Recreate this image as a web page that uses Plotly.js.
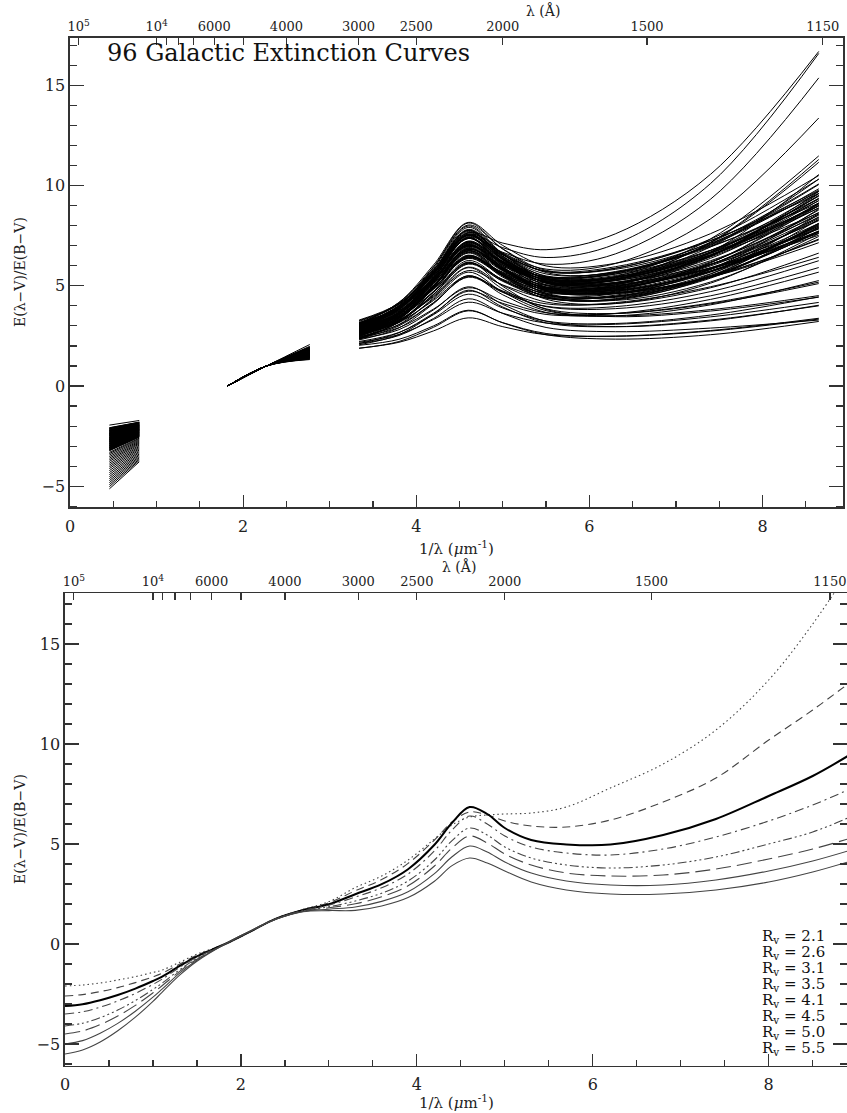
<!DOCTYPE html>
<html><head><meta charset="utf-8">
<script src="https://cdn.plot.ly/plotly-3.0.1.min.js"></script>
<style>html,body{margin:0;padding:0;background:#fff}#chart{width:847px;height:1113px}</style>
</head><body><div id="chart"></div>
<script>
// ================= DATA =================
// top panel: 96 Galactic extinction curves
const irX  = [0.455, 0.80];            // K and J bands (1/micron)
const optX = [1.82, 2.27, 2.77];       // V, B, U
const optNorm = [0, 1];                // E(V-V)=0, E(B-V)/E(B-V)=1
const uvX  = [3.34, 3.8, 4.2, 4.6, 5.0, 5.5, 6.3, 7.4, 8.65];

const irK = [-2.35,-2.22,-2.41,-2.48,-2.58,-2.63,-2.70,-2.66,
 -1.95,-2.08,-2.11,-2.14,-2.17,-2.19,-2.21,-2.24,-2.26,-2.28,
 -2.30,-2.32,-2.34,-2.36,-2.38,-2.40,-2.42,-2.44,-2.46,-2.49,
 -2.51,-2.53,-2.55,-2.57,-2.60,-2.62,-2.64,-2.67,-2.69,-2.71,
 -2.73,-2.75,-2.77,-2.79,-2.81,-2.83,-2.85,-2.87,-2.89,-2.91,
 -2.93,-2.95,-2.97,-2.99,-3.01,-3.03,-3.05,-3.07,-3.09,-3.11,
 -3.13,-3.15,-3.17,-3.19,-3.21,-3.23,-2.09,-2.13,-2.25,-2.37,
 -2.47,-2.56,-2.68,-2.78,-2.88,-2.98,-3.08,-3.31,-3.37,-3.44,
 -3.52,-3.60,-3.68,-3.76,-3.85,-3.94,-4.03,-4.12,-4.22,-4.32,
 -4.42,-4.52,-4.62,-4.72,-4.82,-4.92,-5.02,-5.13];
const irJ = [-1.98,-1.89,-2.02,-2.06,-2.13,-2.16,-2.21,-2.18,
 -1.72,-1.80,-1.82,-1.84,-1.86,-1.87,-1.89,-1.91,-1.92,-1.93,
 -1.95,-1.96,-1.97,-1.98,-2.00,-2.01,-2.02,-2.04,-2.05,-2.07,
 -2.08,-2.09,-2.11,-2.12,-2.14,-2.15,-2.17,-2.19,-2.20,-2.21,
 -2.22,-2.24,-2.25,-2.26,-2.28,-2.29,-2.30,-2.32,-2.33,-2.34,
 -2.35,-2.37,-2.38,-2.39,-2.41,-2.42,-2.43,-2.45,-2.46,-2.47,
 -2.48,-2.50,-2.51,-2.52,-2.54,-2.55,-1.81,-1.83,-1.91,-1.99,
 -2.06,-2.11,-2.19,-2.26,-2.32,-2.39,-2.45,-2.60,-2.64,-2.69,
 -2.74,-2.79,-2.84,-2.89,-2.95,-3.01,-3.07,-3.13,-3.19,-3.26,
 -3.32,-3.39,-3.45,-3.52,-3.58,-3.65,-3.71,-3.78];
const optU = [1.78,1.85,1.74,1.70,1.66,1.72,1.63,1.68,
 2.07,1.98,1.95,1.93,1.91,1.89,1.88,1.86,1.85,1.84,
 1.83,1.82,1.81,1.80,1.79,1.78,1.77,1.76,1.75,1.74,
 1.73,1.72,1.71,1.70,1.69,1.68,1.67,1.66,1.65,1.64,
 1.63,1.62,1.61,1.60,1.59,1.58,1.57,1.56,1.55,1.54,
 1.90,1.87,1.83,1.79,1.76,1.73,1.70,1.67,1.64,1.61,
 1.58,1.55,1.81,1.77,1.74,1.71,1.68,1.65,1.62,1.59,
 1.78,1.72,1.66,1.60,1.84,1.75,1.69,1.63,1.57,1.53,
 1.52,1.51,1.50,1.49,1.48,1.47,1.46,1.45,1.44,1.43,
 1.42,1.41,1.40,1.39,1.37,1.36,1.34,1.32];

const uvTop = [
 [3.05,4.16,5.81,7.64,7.13,6.80,7.59,10.56,16.69],
 [2.83,3.93,5.65,7.56,6.90,6.41,7.08,10.10,16.59],
 [2.93,3.94,5.58,7.41,6.67,6.08,6.59,9.32,15.37],
 [3.06,4.02,5.68,7.56,6.63,5.83,6.11,8.34,13.37],
 [2.73,3.60,5.12,6.83,5.97,5.23,5.46,7.34,11.48],
 [2.59,3.55,5.27,7.23,6.15,5.19,5.32,7.17,11.30],
 [2.96,3.83,5.41,7.21,6.20,5.30,5.40,7.15,11.16],
 [2.92,3.83,5.58,7.58,6.31,5.14,5.06,6.67,10.55]];
const uvMain = [
 [3.05,4.00,5.86,7.98,6.60,5.33,5.17,6.37,9.09],
 [2.92,3.88,5.67,7.71,6.48,5.36,5.33,6.52,8.98],
 [2.82,3.69,5.40,7.36,6.05,4.83,4.64,5.68,8.08],
 [3.09,3.92,5.52,7.36,6.16,5.05,4.91,5.90,8.11],
 [2.69,3.56,5.20,7.08,5.92,4.86,4.79,5.83,7.98],
 [2.89,3.67,5.23,7.03,5.79,4.63,4.42,5.43,7.91],
 [2.56,3.43,5.01,6.81,5.80,4.90,4.97,6.19,8.66],
 [2.96,3.74,5.24,6.96,5.87,4.87,4.77,5.71,7.74],
 [2.76,3.58,5.12,6.88,5.83,4.88,4.87,6.05,8.59],
 [3.16,3.89,5.35,7.03,5.90,4.85,4.67,5.43,7.15],
 [2.63,3.50,5.02,6.73,5.87,5.13,5.32,6.61,9.02],
 [2.83,3.61,5.05,6.68,5.74,4.90,4.94,6.07,8.42],
 [2.53,3.27,4.67,6.26,5.28,4.39,4.36,5.51,8.12],
 [3.03,3.86,5.34,7.01,6.11,5.32,5.43,6.54,8.63],
 [2.70,3.49,4.86,6.41,5.62,4.94,5.12,6.50,9.37],
 [2.90,3.64,4.97,6.48,5.65,4.92,5.00,6.08,8.25],
 [2.46,3.37,4.99,6.83,5.86,5.01,5.16,6.49,9.09],
 [3.22,4.09,5.80,7.76,6.45,5.23,5.03,5.87,7.70],
 [2.89,3.85,5.57,7.53,6.45,5.49,5.58,6.77,8.98],
 [2.75,3.61,5.39,7.43,5.97,4.60,4.27,5.19,7.46],
 [2.39,3.31,4.99,6.91,5.79,4.78,4.81,6.15,9.00],
 [2.93,3.62,4.98,6.53,5.51,4.57,4.45,5.43,7.72],
 [2.70,3.40,4.69,6.16,5.29,4.51,4.53,5.83,8.83],
 [3.06,3.88,5.42,7.18,6.13,5.18,5.15,6.07,7.84],
 [2.72,3.68,5.47,7.51,6.28,5.16,5.12,6.25,8.52],
 [2.86,3.64,5.14,6.86,5.77,4.77,4.69,5.82,8.43],
 [2.50,3.24,4.57,6.08,5.25,4.52,4.61,5.82,8.37],
 [3.29,4.12,5.72,7.56,6.36,5.25,5.09,5.89,7.52],
 [2.76,3.67,5.29,7.13,6.16,5.31,5.45,6.65,8.87],
 [2.99,3.91,5.59,7.51,6.39,5.38,5.40,6.68,9.33],
 [2.72,3.63,5.38,7.38,6.11,4.94,4.84,6.05,8.78],
 [2.49,3.32,4.92,6.76,5.56,4.45,4.32,5.58,8.56],
 [3.12,3.94,5.61,7.53,6.18,4.91,4.63,5.43,7.33],
 [2.73,3.65,5.21,6.96,6.14,5.45,5.71,6.98,9.12],
 [2.86,3.73,5.31,7.11,6.10,5.20,5.28,6.63,9.49],
 [2.62,3.62,5.45,7.53,6.34,5.27,5.32,6.69,9.47],
 [2.99,3.86,5.50,7.38,6.22,5.16,5.11,6.48,9.59],
 [3.13,3.91,5.35,6.98,6.04,5.20,5.25,6.51,9.25],
 [2.66,3.44,4.94,6.66,5.57,4.57,4.48,5.48,7.70],
 [2.89,3.90,5.66,7.66,6.62,5.71,5.88,7.25,9.77],
 [3.12,4.12,5.95,8.03,6.84,5.77,5.82,7.12,9.71],
 [2.76,3.49,4.95,6.63,5.50,4.45,4.29,5.45,8.32],
 [2.53,3.36,4.84,6.51,5.61,4.82,4.95,6.46,9.70],
 [2.93,3.80,5.32,7.03,6.17,5.43,5.63,7.05,9.84],
 [2.36,3.18,4.72,6.48,5.43,4.48,4.46,5.51,7.67],
 [2.95,3.86,5.68,7.76,6.34,5.02,4.77,5.73,7.93],
 [3.10,3.89,5.26,6.81,6.02,5.34,5.51,6.76,9.24],
 [2.66,3.62,5.28,7.16,6.23,5.43,5.66,7.17,10.08],
 [2.80,3.54,4.87,6.38,5.55,4.82,4.89,5.84,7.62],
 [2.59,3.37,4.93,6.73,5.49,4.33,4.12,5.13,7.61],
 [2.96,3.92,5.58,7.46,6.53,5.73,5.95,7.26,9.60],
 [2.85,3.80,5.66,7.78,6.40,5.13,4.95,5.89,7.84],
 [3.26,4.08,5.62,7.38,6.33,5.38,5.37,6.55,9.09],
 [2.40,3.19,4.56,6.11,5.32,4.64,4.80,5.99,8.28],
 [2.95,3.99,5.93,8.13,6.83,5.66,5.66,7.08,10.05],
 [3.03,3.77,5.17,6.76,5.78,4.89,4.86,6.15,9.14],
 [2.60,3.43,4.84,6.43,5.68,5.05,5.31,6.94,10.32],
 [2.90,3.60,4.89,6.36,5.49,4.71,4.72,5.75,7.98],
 [2.85,3.85,5.75,7.91,6.57,5.35,5.26,6.44,8.89],
 [2.59,3.60,5.36,7.36,6.32,5.41,5.59,7.02,9.73],
 [3.16,4.07,5.69,7.53,6.56,5.71,5.87,7.33,10.32],
 [2.79,3.62,5.22,7.06,5.86,4.75,4.60,5.46,7.29],
 [2.33,3.20,4.72,6.43,5.57,4.83,5.04,6.52,9.51],
 [3.02,3.98,5.77,7.81,6.58,5.46,5.44,6.76,9.61],
 [2.63,3.41,4.85,6.48,5.54,4.70,4.73,5.73,7.70],
 [2.80,3.45,4.70,6.13,5.22,4.39,4.33,5.38,7.88],
 [3.12,4.17,6.04,8.16,7.01,5.99,6.12,7.60,10.50],
 [2.52,3.43,5.18,7.18,5.91,4.74,4.63,5.71,8.05],
 [2.66,3.30,4.45,5.76,5.04,4.40,4.48,5.60,8.03],
 [2.99,3.95,5.67,7.63,6.55,5.59,5.68,6.94,9.34]];
const uvLow = [
 [1.88,2.22,2.93,3.75,3.16,2.62,2.48,2.74,3.34],
 [2.12,2.52,3.37,4.35,3.62,2.92,2.71,2.89,3.29],
 [2.18,2.57,3.32,4.18,3.63,3.14,3.08,3.45,4.17],
 [2.06,2.56,3.59,4.78,3.94,3.15,2.96,3.29,4.00],
 [2.36,2.81,3.80,4.95,4.07,3.23,2.96,3.25,4.03],
 [2.42,2.91,3.84,4.90,4.25,3.65,3.61,4.14,5.18],
 [2.30,2.90,4.11,5.50,4.55,3.67,3.50,4.05,5.26],
 [2.60,3.16,4.33,5.68,4.69,3.76,3.50,3.81,4.51],
 [2.12,2.66,3.63,4.73,4.12,3.57,3.62,4.32,5.68],
 [2.46,3.05,4.16,5.43,4.67,3.98,3.96,4.71,6.25],
 [2.43,3.07,4.39,5.90,4.84,3.85,3.62,4.10,5.11],
 [2.66,3.20,4.27,5.50,4.70,3.96,3.86,4.50,5.91],
 [1.89,2.18,2.75,3.40,2.96,2.56,2.49,2.77,3.38],
 [2.22,2.67,3.56,4.58,3.89,3.24,3.12,3.54,4.45],
 [2.60,3.25,4.50,5.93,5.02,4.19,4.11,4.90,6.63],
 [2.36,3.00,4.15,5.46,4.74,4.10,4.16,4.95,6.42],
 [2.03,2.33,3.00,3.78,3.15,2.56,2.34,2.56,3.22],
 [2.56,3.20,4.58,6.18,4.97,3.82,3.46,3.74,4.43]];

// bottom panel: average curves for several R_V
const rvX = [0,0.2,0.4,0.6,0.8,1.0,1.1,1.3,1.5,1.82,2.1,2.4,2.7,3.0,3.3,
             3.6,3.9,4.2,4.4,4.6,4.8,5.0,5.3,5.7,6.2,6.8,7.4,8.0,8.5,8.9];
const rvLabels = ['2.1','2.6','3.1','3.5','4.1','4.5','5.0','5.5'];
const rv21 = [-2.10,-2.05,-1.95,-1.80,-1.63,-1.42,-1.31,-0.92,-0.51,0,0.60,1.28,1.72,2.12,2.82,
              3.40,4.20,5.25,5.95,6.35,6.45,6.50,6.55,6.85,7.80,9.00,10.70,13.20,16.00,18.60];
const rv26 = [-2.60,-2.53,-2.38,-2.18,-1.93,-1.64,-1.47,-1.01,-0.56,0,0.60,1.27,1.71,2.06,2.66,
              3.22,4.03,5.20,6.10,6.60,6.45,6.15,5.90,5.85,6.20,7.10,8.30,10.20,11.70,13.00];
const rv31 = [-3.10,-3.01,-2.81,-2.55,-2.23,-1.85,-1.64,-1.11,-0.62,0,0.61,1.27,1.69,1.99,2.49,
              2.99,3.74,4.96,6.06,6.85,6.50,5.80,5.20,4.98,4.97,5.45,6.25,7.40,8.40,9.40];
const rv35 = [-3.50,-3.39,-3.16,-2.85,-2.47,-2.02,-1.77,-1.18,-0.66,0,0.61,1.26,1.68,1.94,2.35,
              2.81,3.50,4.66,5.70,6.40,6.00,5.40,4.85,4.55,4.45,4.75,5.35,6.15,6.95,7.70];
const rv41 = [-4.10,-3.96,-3.68,-3.30,-2.83,-2.27,-1.97,-1.30,-0.72,0,0.62,1.26,1.66,1.86,2.15,
              2.54,3.15,4.20,5.17,5.80,5.45,4.85,4.30,3.95,3.80,3.95,4.35,5.00,5.60,6.30];
const rv45 = [-4.50,-4.35,-4.03,-3.60,-3.07,-2.44,-2.10,-1.38,-0.76,0,0.63,1.25,1.64,1.81,2.01,
              2.36,2.91,3.90,4.80,5.40,5.05,4.50,3.95,3.55,3.40,3.45,3.75,4.25,4.75,5.25];
const rv50 = [-5.00,-4.83,-4.46,-3.97,-3.36,-2.66,-2.27,-1.47,-0.81,0,0.63,1.25,1.62,1.74,1.85,
              2.13,2.61,3.52,4.36,4.90,4.60,4.10,3.55,3.15,2.95,2.95,3.20,3.65,4.15,4.65];
const rv55 = [-5.50,-5.30,-4.90,-4.34,-3.66,-2.87,-2.43,-1.57,-0.86,0,0.64,1.24,1.61,1.67,1.68,
              1.90,2.32,3.14,3.92,4.30,4.05,3.65,3.10,2.70,2.50,2.50,2.70,3.10,3.60,4.10];

// wavelength (Angstrom) tick marks on the upper axes
const lamMajor  = [100000, 10000, 6000, 4000, 3000, 2500, 2000, 1500, 1150];
const lamLabels = ['10<sup>5</sup>','10<sup>4</sup>','6000','4000','3000','2500','2000','1500','1150'];
const lamMinor  = [9000, 8000, 7000, 5000];

// ================= PLOT =================
const W = 847, H = 1113;
const fx = p => p / W, fy = p => 1 - p / H;
const FONT = 'DejaVu Serif, Liberation Serif, serif';
const INK = '#222';

const traces = [];
const uvRows = uvTop.concat(uvMain, uvLow);
uvRows.forEach((row, i) => {
  traces.push({
    type: 'scatter', mode: 'lines', xaxis: 'x', yaxis: 'y',
    x: irX.concat([null], optX, [null], uvX),
    y: [irK[i], irJ[i], null, optNorm[0], optNorm[1], optU[i], null].concat(row),
    connectgaps: false, hoverinfo: 'skip', showlegend: false,
    line: {color: '#000', width: 1, shape: 'spline', smoothing: 1}
  });
});

const rvSeries = [rv21, rv26, rv31, rv35, rv41, rv45, rv50, rv55];
const rvStyles = [
  {color: '#444', width: 1.1, dash: '1.5px,3px'},
  {color: '#444', width: 1.1, dash: '8px,5px'},
  {color: '#000', width: 2},
  {color: '#444', width: 1.1, dash: '9px,4px,2px,4px'},
  {color: '#444', width: 1.1, dash: '9px,3px,2px,3px,2px,3px,2px,3px'},
  {color: '#444', width: 1.1, dash: '15px,6px'},
  {color: '#444', width: 1.1},
  {color: '#444', width: 1.1}
];
rvSeries.forEach((ys, k) => {
  traces.push({
    type: 'scatter', mode: 'lines', xaxis: 'x3', yaxis: 'y2',
    x: rvX, y: ys, hoverinfo: 'skip', showlegend: false,
    line: Object.assign({shape: 'spline', smoothing: 1}, rvStyles[k])
  });
});
// empty traces so that the upper wavelength axes get their subplots
traces.push({type: 'scatter', mode: 'lines', x: [], y: [], xaxis: 'x2', yaxis: 'y', hoverinfo: 'skip', showlegend: false});
traces.push({type: 'scatter', mode: 'lines', x: [], y: [], xaxis: 'x4', yaxis: 'y2', hoverinfo: 'skip', showlegend: false});

const lineCol = '#333';
const baseAxis = {
  showline: true, linecolor: lineCol, linewidth: 1.6, showgrid: false, zeroline: false,
  ticks: 'inside', tickcolor: lineCol, tickwidth: 1.2,
  tickfont: {family: FONT, size: 16, color: INK}, fixedrange: true
};
function bottomX(dom, anchor, rng) {
  return Object.assign({}, baseAxis, {
    domain: dom, anchor: anchor, range: rng, tickmode: 'linear', tick0: 0, dtick: 2, ticklen: 12,
    ticklabelstandoff: 4,
    minor: {tickmode: 'linear', tick0: 0, dtick: 0.5, ticklen: 6, ticks: 'inside', tickcolor: lineCol, tickwidth: 1.2}
  });
}
function topX(over, anchor, rng) {
  return Object.assign({}, baseAxis, {
    overlaying: over, anchor: anchor, side: 'top', range: rng,
    tickmode: 'array', tickvals: lamMajor.map(l => 1e4 / l), ticktext: lamLabels, ticklen: 7,
    minor: {tickmode: 'array', tickvals: lamMinor.map(l => 1e4 / l), ticklen: 7, ticks: 'inside', tickcolor: lineCol, tickwidth: 1.2},
    tickfont: {family: FONT, size: 13, color: INK}
  });
}
function leftY(dom, anchor, rng) {
  return Object.assign({}, baseAxis, {
    domain: dom, anchor: anchor, range: rng, tickmode: 'linear', tick0: 0, dtick: 5, ticklen: 14,
    mirror: 'ticks',
    minor: {tickmode: 'linear', tick0: 0, dtick: 1, ticklen: 7, ticks: 'inside', tickcolor: lineCol, tickwidth: 1.2}
  });
}

const topXRange = [0, 8.93], botXRange = [0, 8.89];
const layout = {
  width: W, height: H, autosize: false,
  margin: {l: 0, r: 0, t: 0, b: 0, pad: 0},
  paper_bgcolor: '#fff', plot_bgcolor: 'rgba(0,0,0,0)',
  showlegend: false,
  font: {family: FONT, color: INK},
  xaxis:  bottomX([fx(70), fx(843)], 'y', topXRange),
  xaxis2: topX('x', 'y', topXRange),
  yaxis:  leftY([fy(507.3), fy(37.8)], 'x', [-6.05, 17.37]),
  xaxis3: bottomX([fx(65), 1], 'y2', botXRange),
  xaxis4: topX('x3', 'y2', botXRange),
  yaxis2: leftY([fy(1065.6), fy(593.2)], 'x3', [-6.08, 17.54]),
  annotations: []
};

const ann = layout.annotations;
ann.push({text: '96 Galactic Extinction Curves', xref: 'x', yref: 'y', x: 0.4, y: 16.6,
  xanchor: 'left', yanchor: 'middle', showarrow: false, font: {family: FONT, size: 24, color: '#111'}});
[[543, 10], [459, 566]].forEach(p => ann.push({text: 'λ (Å)', xref: 'paper', yref: 'paper',
  x: fx(p[0]), y: fy(p[1]), xanchor: 'center', yanchor: 'middle', showarrow: false,
  font: {family: FONT, size: 14, color: INK}}));
[548, 1102].forEach(py => ann.push({text: '1/λ (<i>μ</i>m<sup>-1</sup>)', xref: 'paper', yref: 'paper',
  x: fx(456), y: fy(py), xanchor: 'center', yanchor: 'middle', showarrow: false,
  font: {family: FONT, size: 15, color: INK}}));
[272, 829].forEach(py => ann.push({text: 'E(λ−V)/E(B−V)', xref: 'paper', yref: 'paper',
  x: fx(20), y: fy(py), xanchor: 'center', yanchor: 'middle', textangle: -90, showarrow: false,
  font: {family: FONT, size: 14, color: INK}}));
rvLabels.forEach((r, k) => ann.push({text: 'R<sub>v</sub> = ' + r, xref: 'paper', yref: 'paper',
  x: fx(760), y: fy(936 + k * 16), xanchor: 'left', yanchor: 'middle', showarrow: false,
  font: {family: FONT, size: 15, color: '#111'}}));

Plotly.newPlot('chart', traces, layout, {staticPlot: true, displayModeBar: false});
</script>
</body></html>
